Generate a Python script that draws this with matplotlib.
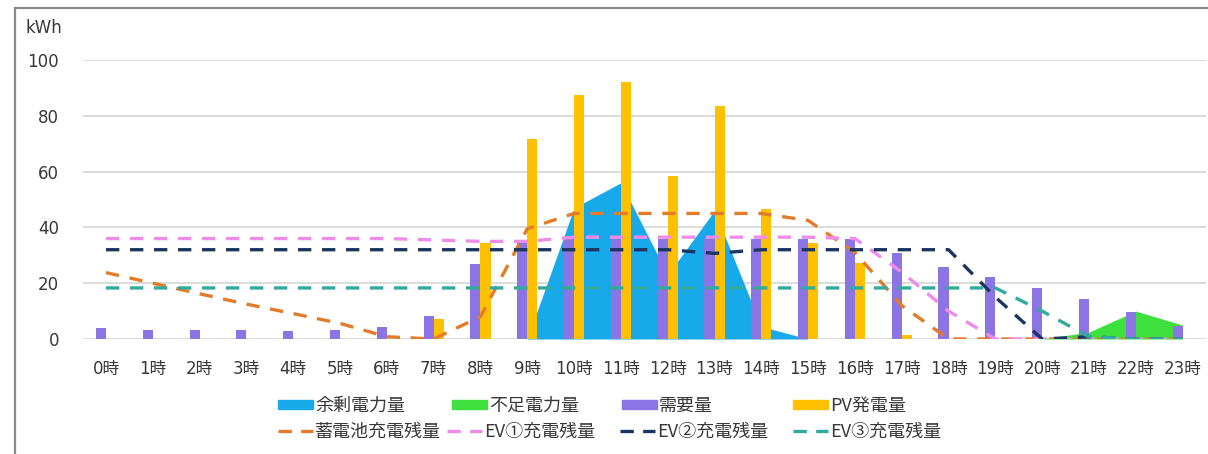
import numpy as np
import matplotlib
matplotlib.use("Agg")
import matplotlib.pyplot as plt
from matplotlib.patches import Patch, Rectangle
from matplotlib.lines import Line2D

plt.rcParams['font.family'] = ['DejaVu Sans', 'Noto Sans CJK JP']

# --- data -------------------------------------------------------------
hours = [f"{h}時" for h in range(24)]

demand = [3.8, 3.2, 3.1, 3.2, 2.9, 3.2, 4.4, 8.2, 27, 35, 36, 36,
          36, 36, 36, 36, 36, 31, 25.7, 22.3, 18.2, 14.2, 9.8, 4.8]
pv = [0, 0, 0, 0, 0, 0, 0, 7, 34.5, 71.6, 87.4, 92.2,
      58.4, 83.5, 46.5, 34.3, 27.4, 1.4, 0, 0, 0, 0, 0, 0]
surplus = [0, 0, 0, 0, 0, 0, 0, 0, 0, 0, 47, 56,
           23, 46, 4.5, 0, 0, 0, 0, 0, 0, 0, 0, 0]
shortage = [0, 0, 0, 0, 0, 0, 0, 0, 0, 0, 0, 0,
            0, 0, 0, 0, 0, 0, 0, 0, 0, 2.5, 10, 5]
battery = [23.8, 20, 16.2, 12.5, 9.1, 5.6, 0.8, 0, 8, 39.5, 45, 45,
           45, 45, 45, 42.5, 31, 12, 0, 0, 0, 0, 0, 0]
ev1 = [36, 36, 36, 36, 36, 36, 36, 35.5, 35, 35, 36.5, 36.5,
       36.5, 36.5, 36.5, 36.5, 36, 24, 10, 0, 0, 0, 0, 0]
ev2 = [32, 32, 32, 32, 32, 32, 32, 32, 32, 32, 32, 32,
       32, 30.7, 32, 32, 32, 32, 32, 15, 0, 0.8, 0, 0]
ev3 = [18.3, 18.3, 18.3, 18.3, 18.3, 18.3, 18.3, 18.3, 18.3, 18.3, 18.3, 18.3,
       18.3, 18.3, 18.3, 18.3, 18.3, 18.3, 18.3, 18.3, 10, 0.8, 0, 0]

labels_fill = ["余剰電力量", "不足電力量", "需要量", "PV発電量"]
labels_line = ["蓄電池充電残量", "EV①充電残量", "EV②充電残量", "EV③充電残量"]

# --- style ------------------------------------------------------------
c_surplus = "#17a9ea"
c_short = "#3ee03e"
c_demand = "#8b74e4"
c_pv = "#ffc000"
c_batt = "#e27b2a"
c_ev1 = "#ee8ce8"
c_ev2 = "#1c3560"
c_ev3 = "#33aa9e"
txt = "#383838"
grid = "#d9d9d9"

W, H = 1208, 454
fig = plt.figure(figsize=(W / 100, H / 100), dpi=100)
fig.patch.set_facecolor("white")

x0, x1, y0, y1 = 82.6, 1206, 339, 60
ax = fig.add_axes([x0 / W, 1 - y0 / H, (x1 - x0) / W, (y0 - y1) / H])

x = np.arange(len(hours))
ax.fill_between(x, surplus, color=c_surplus, lw=0, zorder=1)
ax.fill_between(x, shortage, color=c_short, lw=0, zorder=1)

bw = 0.215
ax.bar(x - bw / 2, demand, bw, color=c_demand, zorder=2)
ax.bar(x + bw / 2, pv, bw, color=c_pv, zorder=2)

dash = (4, 3.2)
for vals, col in [(battery, c_batt), (ev1, c_ev1), (ev2, c_ev2), (ev3, c_ev3)]:
    ax.plot(x, vals, color=col, lw=2.4, dashes=dash, zorder=3,
            solid_capstyle="butt", dash_capstyle="butt")

ax.set_xlim(-0.5, len(hours) - 0.5)
ax.set_ylim(0, 100)
ax.set_yticks(range(0, 101, 20))
ax.set_xticks(x)
ax.set_xticklabels(hours)
ax.tick_params(axis="both", length=0, labelsize=12, labelcolor=txt)
ax.tick_params(axis="x", pad=15)
ax.tick_params(axis="y", pad=17)
ax.yaxis.grid(True, color=grid, lw=1.3)
ax.set_axisbelow(True)
for s in ax.spines.values():
    s.set_visible(False)

fig.text(25 / W, 1 - 28 / H, "kWh", fontsize=12, color=txt, va="center", ha="left")

# outer chart frame
fig.add_artist(Rectangle((15 / W, -0.1), 1.2, 1.1 - 8 / H,
                         transform=fig.transFigure, fill=False,
                         edgecolor="#8a8a8a", lw=1.6))

# --- legend -----------------------------------------------------------
fill_handles = [Patch(color=c_surplus), Patch(color=c_short),
                Patch(color=c_demand), Patch(color=c_pv)]
line_handles = [Line2D([], [], color=c, lw=2.4, dashes=(4.0, 2.8))
                for c in (c_batt, c_ev1, c_ev2, c_ev3)]

row_y = [406, 432]
col_x = [[278, 452, 622, 793], [278, 447, 620, 793]]
for r, (handles, labels) in enumerate([(fill_handles, labels_fill),
                                       (line_handles, labels_line)]):
    for c in range(4):
        leg = fig.legend([handles[c]], [labels[c]], loc="center left",
                         bbox_to_anchor=(col_x[r][c] / W, 1 - row_y[r] / H),
                         frameon=False, borderpad=0, borderaxespad=0,
                         handlelength=1.95, handleheight=0.4,
                         handletextpad=0.12,
                         prop={"family": ["Noto Sans CJK JP"], "size": 13})
        for t in leg.get_texts():
            t.set_color(txt)

fig.savefig("out.png", dpi=100)
